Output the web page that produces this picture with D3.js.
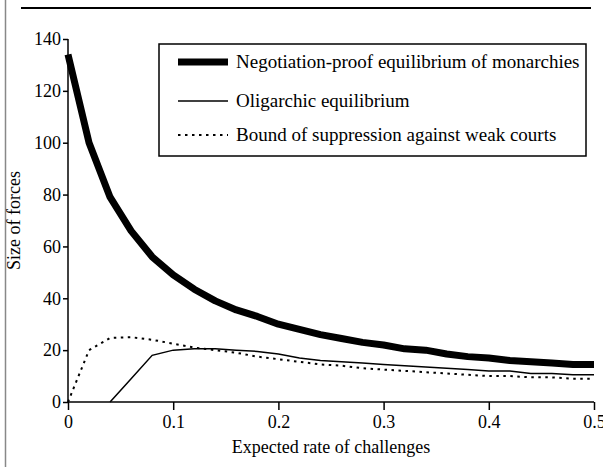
<!DOCTYPE html>
<html>
<head>
<meta charset="utf-8">
<script src="https://cdn.jsdelivr.net/npm/d3@7"></script>
<style>
  body { margin: 0; background: #fff; }
</style>
</head>
<body>
<script>
const rates = [0, 0.02, 0.04, 0.06, 0.08, 0.10, 0.12, 0.14, 0.16, 0.18, 0.20, 0.22, 0.24,
  0.26, 0.28, 0.30, 0.32, 0.34, 0.36, 0.38, 0.40, 0.42, 0.44, 0.46, 0.48, 0.50]

const monarchies = [134, 100, 79, 66, 56, 49, 43.5, 39, 35.5, 33, 30, 28, 26,
  24.5, 23, 22, 20.5, 20, 18.5, 17.5, 17, 16, 15.5, 15, 14.5, 14.5]

// oligarchic equilibrium only exists from 0.04 on
const oligarchicRates = rates.slice(2)
const oligarchic = [0, 9, 18, 20, 20.5, 20.5, 20, 19.5, 18.5, 17, 16,
  15.5, 15, 14.5, 14, 13.5, 13, 12.5, 12, 12, 11, 11, 10.5, 10.5]

const weakCourts = [0, 20, 24.7, 25, 24, 22.5, 21, 20, 19, 17.5, 16.5, 15.5, 14.5,
  14, 13, 12.5, 12, 11.5, 11, 10.5, 10, 10, 9.5, 9.5, 9, 9]

const yTicks = [0, 20, 40, 60, 80, 100, 120, 140]
const xTicks = [0, 0.1, 0.2, 0.3, 0.4, 0.5]
const legendLabels = [
  'Negotiation-proof equilibrium of monarchies',
  'Oligarchic equilibrium',
  'Bound of suppression against weak courts'
]

const W = 603, H = 467
const margin = { top: 39, right: 9, bottom: 65, left: 68 }
const width = W - margin.left - margin.right
const height = H - margin.top - margin.bottom
const serif = 'Liberation Serif'

const x = d3.scaleLinear().domain([0, 0.5]).range([0, width])
const y = d3.scaleLinear().domain([0, 140]).range([height, 0])

const svg = d3.select('body').append('svg')
    .attr('width', W)
    .attr('height', H)
    .attr('font-family', serif)

// page frame bits
svg.append('line')
    .attr('x1', 5.5).attr('x2', 5.5).attr('y1', 0).attr('y2', H)
    .attr('stroke', '#888').attr('stroke-width', 1.5)
svg.append('line')
    .attr('x1', 21).attr('x2', 591).attr('y1', 8).attr('y2', 8)
    .attr('stroke', '#000').attr('stroke-width', 2)

const g = svg.append('g')
    .attr('transform', `translate(${margin.left},${margin.top})`)

const xAxis = g.append('g')
    .attr('transform', `translate(0,${height})`)
    .call(d3.axisBottom(x).tickValues(xTicks).tickFormat(d3.format('')).tickSize(8).tickPadding(5))
const yAxis = g.append('g')
    .call(d3.axisLeft(y).tickValues(yTicks).tickSize(5).tickPadding(2))

for (const ax of [xAxis, yAxis]) {
  ax.attr('font-family', serif).attr('font-size', 18)
  ax.select('.domain').attr('stroke', '#000').attr('stroke-width', 1.5)
  ax.selectAll('.tick line').attr('stroke', '#000').attr('stroke-width', 1.5)
  ax.selectAll('.tick text').attr('fill', '#000')
}
xAxis.select('.domain').attr('d', `M0,0H${width}`)
yAxis.select('.domain').attr('d', `M0,${height}V0`)

const line = d3.line()

g.append('path')
    .attr('d', line(rates.map((r, i) => [x(r), y(weakCourts[i])])))
    .attr('fill', 'none').attr('stroke', '#000').attr('stroke-width', 2)
    .attr('stroke-dasharray', '2.5,4.5')

g.append('path')
    .attr('d', line(oligarchicRates.map((r, i) => [x(r), y(oligarchic[i])])))
    .attr('fill', 'none').attr('stroke', '#000').attr('stroke-width', 1.5)

g.append('path')
    .attr('d', line(rates.map((r, i) => [x(r), y(monarchies[i])])))
    .attr('fill', 'none').attr('stroke', '#000').attr('stroke-width', 7)
    .attr('stroke-linejoin', 'round')

// axis titles
svg.append('text')
    .attr('x', margin.left + width / 2).attr('y', 453)
    .attr('text-anchor', 'middle')
    .attr('font-size', 18)
    .text('Expected rate of challenges')
svg.append('text')
    .attr('transform', `translate(20,${margin.top + height / 2}) rotate(-90)`)
    .attr('text-anchor', 'middle')
    .attr('font-size', 18)
    .text('Size of forces')

// legend
const legend = svg.append('g').attr('transform', 'translate(159,44)')
legend.append('rect')
    .attr('width', 427).attr('height', 112)
    .attr('fill', '#fff').attr('stroke', '#000').attr('stroke-width', 1.5)

const legendStyles = [
  { w: 7, dash: null },
  { w: 1.5, dash: null },
  { w: 2, dash: '2.5,4.5' }
]
const rowY = [18, 57, 91]

legendLabels.forEach((label, i) => {
  const row = legend.append('g').attr('transform', `translate(0,${rowY[i]})`)
  row.append('line')
      .attr('x1', 19).attr('x2', 69)
      .attr('stroke', '#000').attr('stroke-width', legendStyles[i].w)
      .attr('stroke-dasharray', legendStyles[i].dash)
  row.append('text')
      .attr('x', 77).attr('dy', '0.32em')
      .attr('font-size', 19)
      .text(label)
})
</script>
</body>
</html>
